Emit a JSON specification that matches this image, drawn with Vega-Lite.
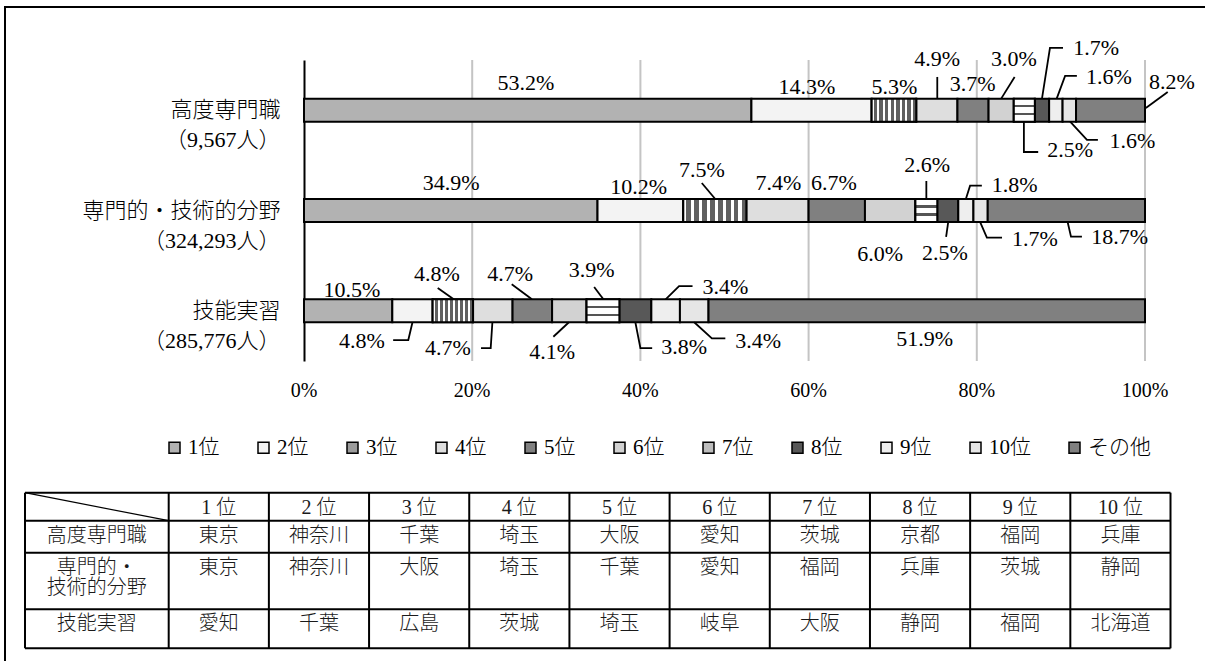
{
  "$schema": "https://vega.github.io/schema/vega-lite/v6.json",
  "width": 1200,
  "height": 654,
  "autosize": {"type": "none"},
  "padding": {"left": 5, "top": 7, "right": 0, "bottom": 0},
  "background": "white",
  "view": {"stroke": "black", "strokeWidth": 2, "strokeDash": [1200, 1854, 654]},
  "config": {
    "font": "Liberation Serif, Noto Sans CJK JP"
  },
  "datasets": {
    "shares": [
      {"cat": "高度専門職\n（9,567人）", "rank": "1位", "k": 1, "pct": 53.2, "tx": 26.4, "ty": 0.234},
      {"cat": "高度専門職\n（9,567人）", "rank": "2位", "k": 2, "pct": 14.3, "tx": 59.8, "ty": 0.274},
      {"cat": "高度専門職\n（9,567人）", "rank": "3位", "k": 3, "pct": 5.3, "tx": 70.2, "ty": 0.274},
      {"cat": "高度専門職\n（9,567人）", "rank": "4位", "k": 4, "pct": 4.9, "tx": 75.3, "ty": -0.01},
      {"cat": "高度専門職\n（9,567人）", "rank": "5位", "k": 5, "pct": 3.7, "tx": 79.5, "ty": 0.239},
      {"cat": "高度専門職\n（9,567人）", "rank": "6位", "k": 6, "pct": 3.0, "tx": 84.4, "ty": -0.01},
      {"cat": "高度専門職\n（9,567人）", "rank": "7位", "k": 7, "pct": 2.5, "tx": 91.1, "ty": 0.897},
      {"cat": "高度専門職\n（9,567人）", "rank": "8位", "k": 8, "pct": 1.7, "tx": 94.2, "ty": -0.12},
      {"cat": "高度専門職\n（9,567人）", "rank": "9位", "k": 9, "pct": 1.6, "tx": 95.7, "ty": 0.166},
      {"cat": "高度専門職\n（9,567人）", "rank": "10位", "k": 10, "pct": 1.6, "tx": 98.5, "ty": 0.807},
      {"cat": "高度専門職\n（9,567人）", "rank": "その他", "k": 11, "pct": 8.2, "tx": 103.2, "ty": 0.219},
      {"cat": "専門的・技術的分野\n（324,293人）", "rank": "1位", "k": 1, "pct": 34.9, "tx": 17.5, "ty": 1.221},
      {"cat": "専門的・技術的分野\n（324,293人）", "rank": "2位", "k": 2, "pct": 10.2, "tx": 39.8, "ty": 1.263},
      {"cat": "専門的・技術的分野\n（324,293人）", "rank": "3位", "k": 3, "pct": 7.5, "tx": 47.3, "ty": 1.096},
      {"cat": "専門的・技術的分野\n（324,293人）", "rank": "4位", "k": 4, "pct": 7.4, "tx": 56.4, "ty": 1.221},
      {"cat": "専門的・技術的分野\n（324,293人）", "rank": "5位", "k": 5, "pct": 6.7, "tx": 63.0, "ty": 1.226},
      {"cat": "専門的・技術的分野\n（324,293人）", "rank": "6位", "k": 6, "pct": 6.0, "tx": 68.5, "ty": 1.934},
      {"cat": "専門的・技術的分野\n（324,293人）", "rank": "7位", "k": 7, "pct": 2.6, "tx": 74.1, "ty": 1.047},
      {"cat": "専門的・技術的分野\n（324,293人）", "rank": "8位", "k": 8, "pct": 2.5, "tx": 76.2, "ty": 1.924},
      {"cat": "専門的・技術的分野\n（324,293人）", "rank": "9位", "k": 9, "pct": 1.8, "tx": 84.5, "ty": 1.246},
      {"cat": "専門的・技術的分野\n（324,293人）", "rank": "10位", "k": 10, "pct": 1.7, "tx": 86.9, "ty": 1.784},
      {"cat": "専門的・技術的分野\n（324,293人）", "rank": "その他", "k": 11, "pct": 18.7, "tx": 97.0, "ty": 1.764},
      {"cat": "技能実習\n（285,776人）", "rank": "1位", "k": 1, "pct": 10.5, "tx": 5.7, "ty": 2.292},
      {"cat": "技能実習\n（285,776人）", "rank": "2位", "k": 2, "pct": 4.8, "tx": 6.9, "ty": 2.801},
      {"cat": "技能実習\n（285,776人）", "rank": "3位", "k": 3, "pct": 4.8, "tx": 15.8, "ty": 2.133},
      {"cat": "技能実習\n（285,776人）", "rank": "4位", "k": 4, "pct": 4.7, "tx": 17.1, "ty": 2.871},
      {"cat": "技能実習\n（285,776人）", "rank": "5位", "k": 5, "pct": 4.7, "tx": 24.5, "ty": 2.133},
      {"cat": "技能実習\n（285,776人）", "rank": "6位", "k": 6, "pct": 4.1, "tx": 29.5, "ty": 2.91},
      {"cat": "技能実習\n（285,776人）", "rank": "7位", "k": 7, "pct": 3.9, "tx": 34.2, "ty": 2.093},
      {"cat": "技能実習\n（285,776人）", "rank": "8位", "k": 8, "pct": 3.8, "tx": 45.2, "ty": 2.861},
      {"cat": "技能実習\n（285,776人）", "rank": "9位", "k": 9, "pct": 3.4, "tx": 50.1, "ty": 2.258},
      {"cat": "技能実習\n（285,776人）", "rank": "10位", "k": 10, "pct": 3.4, "tx": 54.0, "ty": 2.801},
      {"cat": "技能実習\n（285,776人）", "rank": "その他", "k": 11, "pct": 51.9, "tx": 73.8, "ty": 2.781}
    ],
    "leaders": [
      {"id": "a4", "p": 1, "lx": 75.3, "ly": 0.385}, {"id": "a4", "p": 2, "lx": 75.3, "ly": 0.169},
      {"id": "a6", "p": 1, "lx": 82.9, "ly": 0.385}, {"id": "a6", "p": 2, "lx": 84.5, "ly": 0.169},
      {"id": "a7", "p": 1, "lx": 85.6, "ly": 0.614}, {"id": "a7", "p": 2, "lx": 85.6, "ly": 0.917}, {"id": "a7", "p": 3, "lx": 87.3, "ly": 0.917},
      {"id": "a8", "p": 1, "lx": 87.75, "ly": 0.385}, {"id": "a8", "p": 2, "lx": 88.7, "ly": -0.12}, {"id": "a8", "p": 3, "lx": 90.25, "ly": -0.12},
      {"id": "a9", "p": 1, "lx": 89.5, "ly": 0.385}, {"id": "a9", "p": 2, "lx": 90.5, "ly": 0.159}, {"id": "a9", "p": 3, "lx": 91.9, "ly": 0.159},
      {"id": "a10", "p": 1, "lx": 91.1, "ly": 0.614}, {"id": "a10", "p": 2, "lx": 93.1, "ly": 0.797}, {"id": "a10", "p": 3, "lx": 94.4, "ly": 0.797},
      {"id": "a11", "p": 1, "lx": 100.1, "ly": 0.478}, {"id": "a11", "p": 2, "lx": 102.7, "ly": 0.319},
      {"id": "b3", "p": 1, "lx": 48.9, "ly": 1.385}, {"id": "b3", "p": 2, "lx": 47.3, "ly": 1.226},
      {"id": "b7", "p": 1, "lx": 74.0, "ly": 1.385}, {"id": "b7", "p": 2, "lx": 74.0, "ly": 1.206},
      {"id": "b8", "p": 1, "lx": 76.6, "ly": 1.615}, {"id": "b8", "p": 2, "lx": 76.35, "ly": 1.764},
      {"id": "b9", "p": 1, "lx": 78.7, "ly": 1.385}, {"id": "b9", "p": 2, "lx": 79.2, "ly": 1.253}, {"id": "b9", "p": 3, "lx": 80.6, "ly": 1.253},
      {"id": "b10", "p": 1, "lx": 80.4, "ly": 1.615}, {"id": "b10", "p": 2, "lx": 81.2, "ly": 1.771}, {"id": "b10", "p": 3, "lx": 83.0, "ly": 1.771},
      {"id": "b11", "p": 1, "lx": 90.8, "ly": 1.615}, {"id": "b11", "p": 2, "lx": 91.2, "ly": 1.761}, {"id": "b11", "p": 3, "lx": 92.5, "ly": 1.761},
      {"id": "c2", "p": 1, "lx": 10.6, "ly": 2.791}, {"id": "c2", "p": 2, "lx": 12.4, "ly": 2.791}, {"id": "c2", "p": 3, "lx": 12.9, "ly": 2.614},
      {"id": "c3", "p": 1, "lx": 17.8, "ly": 2.385}, {"id": "c3", "p": 2, "lx": 15.9, "ly": 2.272},
      {"id": "c4", "p": 1, "lx": 21.05, "ly": 2.871}, {"id": "c4", "p": 2, "lx": 22.2, "ly": 2.871}, {"id": "c4", "p": 3, "lx": 22.4, "ly": 2.614},
      {"id": "c5", "p": 1, "lx": 27.1, "ly": 2.385}, {"id": "c5", "p": 2, "lx": 24.7, "ly": 2.236},
      {"id": "c6", "p": 1, "lx": 31.5, "ly": 2.614}, {"id": "c6", "p": 2, "lx": 29.65, "ly": 2.758},
      {"id": "c7", "p": 1, "lx": 35.6, "ly": 2.385}, {"id": "c7", "p": 2, "lx": 34.5, "ly": 2.262},
      {"id": "c8", "p": 1, "lx": 39.4, "ly": 2.614}, {"id": "c8", "p": 2, "lx": 40.0, "ly": 2.871}, {"id": "c8", "p": 3, "lx": 41.4, "ly": 2.871},
      {"id": "c9", "p": 1, "lx": 43.0, "ly": 2.385}, {"id": "c9", "p": 2, "lx": 44.6, "ly": 2.253}, {"id": "c9", "p": 3, "lx": 46.2, "ly": 2.253},
      {"id": "c10", "p": 1, "lx": 46.4, "ly": 2.614}, {"id": "c10", "p": 2, "lx": 48.5, "ly": 2.774}, {"id": "c10", "p": 3, "lx": 50.1, "ly": 2.774}
    ],
    "table": [
      {"r": 0, "k": 1, "t": "1 位"}, {"r": 0, "k": 2, "t": "2 位"}, {"r": 0, "k": 3, "t": "3 位"}, {"r": 0, "k": 4, "t": "4 位"}, {"r": 0, "k": 5, "t": "5 位"},
      {"r": 0, "k": 6, "t": "6 位"}, {"r": 0, "k": 7, "t": "7 位"}, {"r": 0, "k": 8, "t": "8 位"}, {"r": 0, "k": 9, "t": "9 位"}, {"r": 0, "k": 10, "t": "10 位"},
      {"r": 1, "k": 0, "t": "高度専門職"},
      {"r": 2, "k": 0, "t": "専門的・\n技術的分野"},
      {"r": 3, "k": 0, "t": "技能実習"},
      {"r": 1, "k": 1, "t": "東京"}, {"r": 1, "k": 2, "t": "神奈川"}, {"r": 1, "k": 3, "t": "千葉"}, {"r": 1, "k": 4, "t": "埼玉"}, {"r": 1, "k": 5, "t": "大阪"},
      {"r": 1, "k": 6, "t": "愛知"}, {"r": 1, "k": 7, "t": "茨城"}, {"r": 1, "k": 8, "t": "京都"}, {"r": 1, "k": 9, "t": "福岡"}, {"r": 1, "k": 10, "t": "兵庫"},
      {"r": 2, "k": 1, "t": "東京"}, {"r": 2, "k": 2, "t": "神奈川"}, {"r": 2, "k": 3, "t": "大阪"}, {"r": 2, "k": 4, "t": "埼玉"}, {"r": 2, "k": 5, "t": "千葉"},
      {"r": 2, "k": 6, "t": "愛知"}, {"r": 2, "k": 7, "t": "福岡"}, {"r": 2, "k": 8, "t": "兵庫"}, {"r": 2, "k": 9, "t": "茨城"}, {"r": 2, "k": 10, "t": "静岡"},
      {"r": 3, "k": 1, "t": "愛知"}, {"r": 3, "k": 2, "t": "千葉"}, {"r": 3, "k": 3, "t": "広島"}, {"r": 3, "k": 4, "t": "茨城"}, {"r": 3, "k": 5, "t": "埼玉"},
      {"r": 3, "k": 6, "t": "岐阜"}, {"r": 3, "k": 7, "t": "大阪"}, {"r": 3, "k": 8, "t": "静岡"}, {"r": 3, "k": 9, "t": "福岡"}, {"r": 3, "k": 10, "t": "北海道"}
    ]
  },
  "layer": [
    {
      "layer": [
        {
          "data": {"values": [{"t": 20}, {"t": 40}, {"t": 60}, {"t": 80}, {"t": 100}]},
          "mark": {"type": "rule", "color": "#c4c4c4", "strokeWidth": 2},
          "encoding": {
            "x": {"field": "t", "type": "quantitative", "axis": null,
                  "scale": {"domain": [0, 100], "range": [299, 1140], "nice": false, "zero": false}},
            "y": {"datum": 0, "type": "quantitative", "axis": null,
                  "scale": {"domain": [0, 3], "range": [53, 354], "nice": false, "zero": false}},
            "y2": {"datum": 3}
          }
        },
        {
          "data": {"values": [{"t": 0}, {"t": 20}, {"t": 40}, {"t": 60}, {"t": 80}, {"t": 100}]},
          "transform": [{"calculate": "datum.t + '%'", "as": "tick"}],
          "mark": {"type": "text", "fontSize": 20, "font": "Liberation Serif", "color": "black", "align": "center", "baseline": "middle"},
          "encoding": {
            "x": {"field": "t", "type": "quantitative", "axis": null,
                  "scale": {"domain": [0, 100], "range": [299, 1140], "nice": false, "zero": false}},
            "y": {"datum": 3.3, "type": "quantitative", "axis": null,
                  "scale": {"domain": [0, 3], "range": [53, 354], "nice": false, "zero": false}},
            "text": {"field": "tick", "type": "nominal"}
          }
        },
        {
          "data": {"name": "shares"},
          "mark": {"type": "bar", "height": 23, "stroke": "black", "strokeWidth": 2},
          "encoding": {
            "y": {
              "field": "cat", "type": "nominal",
              "sort": ["高度専門職\n（9,567人）", "専門的・技術的分野\n（324,293人）", "技能実習\n（285,776人）"],
              "scale": {"range": [53, 354], "paddingInner": 0, "paddingOuter": 0},
              "axis": {
                "orient": "left", "offset": -299, "title": null,
                "domain": true, "domainColor": "black", "domainWidth": 2,
                "ticks": false, "grid": false,
                "labelPadding": 24, "labelFontSize": 22, "labelFontWeight": 300, "labelColor": "black",
                "labelAlign": "right", "labelBaseline": "middle", "labelLineHeight": 30,
                "labelLimit": 0,
                "labelExpr": "split(datum.label, '\\n')"
              }
            },
            "x": {
              "field": "pct", "type": "quantitative", "stack": "zero", "axis": null,
              "scale": {"domain": [0, 100], "range": [299, 1140], "nice": false, "zero": false}
            },
            "color": {
              "field": "rank", "type": "nominal",
              "scale": {
                "domain": ["1位", "2位", "3位", "4位", "5位", "6位", "7位", "8位", "9位", "10位", "その他"],
                "range": ["#b2b2b2", "#f3f3f3", "#9c9c9c", "#dedede", "#808080", "#d2d2d2", "#bdbdbd", "#585858", "#eeeeee", "#e6e6e6", "#808080"]
              },
              "legend": {
                "orient": "none", "legendX": 159, "legendY": 430,
                "direction": "horizontal", "columns": 11, "title": null,
                "symbolType": "square", "symbolSize": 121,
                "symbolStrokeColor": "black", "symbolStrokeWidth": 1.5,
                "labelFontSize": 21, "labelFontWeight": 300, "labelColor": "black", "labelOffset": 3,
                "labelLimit": 0, "columnPadding": 33, "padding": 0
              }
            },
            "order": {"field": "k", "type": "quantitative", "sort": "ascending"}
          }
        },
        {
          "data": {"name": "shares"},
          "transform": [
            {"stack": "pct", "groupby": ["cat"], "sort": [{"field": "k", "order": "ascending"}], "as": ["x0", "x1"]},
            {"filter": "datum.k == 3"}
          ],
          "mark": {
            "type": "bar", "height": 23, "stroke": "black", "strokeWidth": 2,
            "fill": {
              "gradient": "linear", "x1": 0, "x2": 1, "y1": 0, "y2": 0,
              "stops": [
                {"offset": 0, "color": "#ffffff"}, {"offset": 0.05, "color": "#ffffff"}, {"offset": 0.05, "color": "#606060"}, {"offset": 0.125, "color": "#606060"},
                {"offset": 0.125, "color": "#ffffff"}, {"offset": 0.175, "color": "#ffffff"}, {"offset": 0.175, "color": "#606060"}, {"offset": 0.25, "color": "#606060"},
                {"offset": 0.25, "color": "#ffffff"}, {"offset": 0.3, "color": "#ffffff"}, {"offset": 0.3, "color": "#606060"}, {"offset": 0.375, "color": "#606060"},
                {"offset": 0.375, "color": "#ffffff"}, {"offset": 0.425, "color": "#ffffff"}, {"offset": 0.425, "color": "#606060"}, {"offset": 0.5, "color": "#606060"},
                {"offset": 0.5, "color": "#ffffff"}, {"offset": 0.55, "color": "#ffffff"}, {"offset": 0.55, "color": "#606060"}, {"offset": 0.625, "color": "#606060"},
                {"offset": 0.625, "color": "#ffffff"}, {"offset": 0.675, "color": "#ffffff"}, {"offset": 0.675, "color": "#606060"}, {"offset": 0.75, "color": "#606060"},
                {"offset": 0.75, "color": "#ffffff"}, {"offset": 0.8, "color": "#ffffff"}, {"offset": 0.8, "color": "#606060"}, {"offset": 0.875, "color": "#606060"},
                {"offset": 0.875, "color": "#ffffff"}, {"offset": 0.925, "color": "#ffffff"}, {"offset": 0.925, "color": "#606060"}, {"offset": 1, "color": "#606060"}
              ]
            }
          },
          "encoding": {
            "y": {
              "field": "cat", "type": "nominal", "axis": null,
              "sort": ["高度専門職\n（9,567人）", "専門的・技術的分野\n（324,293人）", "技能実習\n（285,776人）"],
              "scale": {"range": [53, 354], "paddingInner": 0, "paddingOuter": 0}
            },
            "x": {"field": "x0", "type": "quantitative", "axis": null,
                  "scale": {"domain": [0, 100], "range": [299, 1140], "nice": false, "zero": false}},
            "x2": {"field": "x1"}
          }
        },
        {
          "data": {"name": "shares"},
          "transform": [
            {"stack": "pct", "groupby": ["cat"], "sort": [{"field": "k", "order": "ascending"}], "as": ["x0", "x1"]},
            {"filter": "datum.k == 7"}
          ],
          "mark": {
            "type": "bar", "height": 23, "stroke": "black", "strokeWidth": 2,
            "fill": {
              "gradient": "linear", "x1": 0, "x2": 0, "y1": 0, "y2": 1,
              "stops": [
                {"offset": 0, "color": "#ffffff"}, {"offset": 0.27, "color": "#ffffff"}, {"offset": 0.27, "color": "#555555"}, {"offset": 0.37, "color": "#555555"},
                {"offset": 0.37, "color": "#ffffff"}, {"offset": 0.62, "color": "#ffffff"}, {"offset": 0.62, "color": "#555555"}, {"offset": 0.72, "color": "#555555"},
                {"offset": 0.72, "color": "#ffffff"}, {"offset": 1, "color": "#ffffff"}
              ]
            }
          },
          "encoding": {
            "y": {
              "field": "cat", "type": "nominal", "axis": null,
              "sort": ["高度専門職\n（9,567人）", "専門的・技術的分野\n（324,293人）", "技能実習\n（285,776人）"],
              "scale": {"range": [53, 354], "paddingInner": 0, "paddingOuter": 0}
            },
            "x": {"field": "x0", "type": "quantitative", "axis": null,
                  "scale": {"domain": [0, 100], "range": [299, 1140], "nice": false, "zero": false}},
            "x2": {"field": "x1"}
          }
        },
        {
          "data": {"name": "leaders"},
          "mark": {"type": "line", "color": "black", "strokeWidth": 1.8},
          "encoding": {
            "x": {"field": "lx", "type": "quantitative", "axis": null,
                  "scale": {"domain": [0, 100], "range": [299, 1140], "nice": false, "zero": false}},
            "y": {"field": "ly", "type": "quantitative", "axis": null,
                  "scale": {"domain": [0, 3], "range": [53, 354], "nice": false, "zero": false}},
            "detail": {"field": "id", "type": "nominal"},
            "order": {"field": "p", "type": "quantitative"}
          }
        },
        {
          "data": {"name": "shares"},
          "transform": [{"calculate": "format(datum.pct, '.1f') + '%'", "as": "lab"}],
          "mark": {"type": "text", "fontSize": 22, "font": "Liberation Serif", "color": "black", "align": "center", "baseline": "middle"},
          "encoding": {
            "x": {"field": "tx", "type": "quantitative", "axis": null,
                  "scale": {"domain": [0, 100], "range": [299, 1140], "nice": false, "zero": false}},
            "y": {"field": "ty", "type": "quantitative", "axis": null,
                  "scale": {"domain": [0, 3], "range": [53, 354], "nice": false, "zero": false}},
            "text": {"field": "lab", "type": "nominal"}
          }
        }
      ],
      "resolve": {"scale": {"y": "independent"}}
    },
    {
      "layer": [
        {
          "data": {"values": [{"b": 0}, {"b": 1}, {"b": 2}, {"b": 3}, {"b": 4}]},
          "mark": {"type": "rule", "color": "black", "strokeWidth": 2},
          "encoding": {
            "y": {"field": "b", "type": "quantitative", "axis": null,
                  "scale": {"domain": [0, 1, 2, 3, 4], "range": [485.7, 513.7, 545.7, 602.3, 641.3], "nice": false, "zero": false}},
            "x": {"datum": -0.5, "type": "quantitative", "axis": null,
                  "scale": {"domain": [-0.5, 0.5, 10.5], "range": [20, 163.7, 1165.5], "nice": false, "zero": false}},
            "x2": {"datum": 10.5}
          }
        },
        {
          "data": {"values": [{"c": -0.5}, {"c": 0.5}, {"c": 1.5}, {"c": 2.5}, {"c": 3.5}, {"c": 4.5}, {"c": 5.5}, {"c": 6.5}, {"c": 7.5}, {"c": 8.5}, {"c": 9.5}, {"c": 10.5}]},
          "mark": {"type": "rule", "color": "black", "strokeWidth": 2},
          "encoding": {
            "x": {"field": "c", "type": "quantitative", "axis": null,
                  "scale": {"domain": [-0.5, 0.5, 10.5], "range": [20, 163.7, 1165.5], "nice": false, "zero": false}},
            "y": {"datum": 0, "type": "quantitative", "axis": null,
                  "scale": {"domain": [0, 1, 2, 3, 4], "range": [485.7, 513.7, 545.7, 602.3, 641.3], "nice": false, "zero": false}},
            "y2": {"datum": 4}
          }
        },
        {
          "data": {"values": [{"corner": "header"}]},
          "mark": {"type": "rule", "color": "black", "strokeWidth": 1.2},
          "encoding": {
            "x": {"datum": -0.5, "type": "quantitative", "axis": null,
                  "scale": {"domain": [-0.5, 0.5, 10.5], "range": [20, 163.7, 1165.5], "nice": false, "zero": false}},
            "x2": {"datum": 0.5},
            "y": {"datum": 0, "type": "quantitative", "axis": null,
                  "scale": {"domain": [0, 1, 2, 3, 4], "range": [485.7, 513.7, 545.7, 602.3, 641.3], "nice": false, "zero": false}},
            "y2": {"datum": 1}
          }
        },
        {
          "data": {"name": "table"},
          "mark": {"type": "text", "fontSize": 20, "color": "#1a1a1a", "fontWeight": 300, "align": "center", "baseline": "top", "dy": 5, "lineBreak": "\n", "lineHeight": 20},
          "encoding": {
            "x": {"field": "k", "type": "quantitative", "axis": null,
                  "scale": {"domain": [-0.5, 0.5, 10.5], "range": [20, 163.7, 1165.5], "nice": false, "zero": false}},
            "y": {"field": "r", "type": "quantitative", "axis": null,
                  "scale": {"domain": [0, 1, 2, 3, 4], "range": [485.7, 513.7, 545.7, 602.3, 641.3], "nice": false, "zero": false}},
            "text": {"field": "t", "type": "nominal"}
          }
        }
      ]
    }
  ],
  "resolve": {"scale": {"x": "independent", "y": "independent"}}
}
